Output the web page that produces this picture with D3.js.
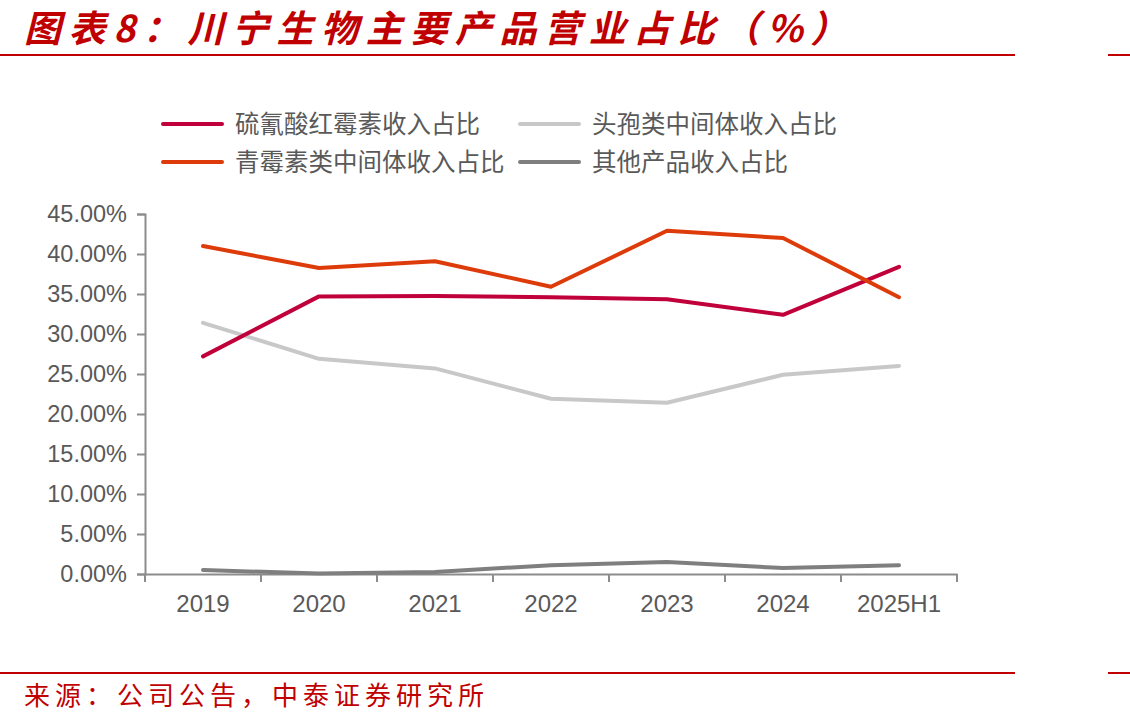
<!DOCTYPE html>
<html>
<head>
<meta charset="utf-8">
<script src="https://cdn.jsdelivr.net/npm/d3@7"></script>
<style>
  body { margin: 0; background: #fff; }
  svg { display: block; }
</style>
</head>
<body>
<svg id="chart" width="1130" height="726"></svg>
<script>
const categories = ['2019', '2020', '2021', '2022', '2023', '2024', '2025H1'];
const seriesNames = ['硫氰酸红霉素收入占比', '头孢类中间体收入占比', '青霉素类中间体收入占比', '其他产品收入占比'];
const erythromycin = [27.2, 34.7, 34.75, 34.6, 34.35, 32.4, 38.4];
const cephalosporin = [31.4, 26.9, 25.7, 21.9, 21.4, 24.9, 26.0];
const penicillin = [41.0, 38.25, 39.1, 35.9, 42.9, 42.0, 34.6];
const others = [0.5, 0.05, 0.25, 1.1, 1.5, 0.75, 1.1];
const yTicks = [0, 5, 10, 15, 20, 25, 30, 35, 40, 45];

const colors = ['#C0003A', '#C8C8C8', '#DD3C0A', '#7F7F7F'];
const values = [erythromycin, cephalosporin, penicillin, others];

const svg = d3.select('#chart');
const red = '#C00000';
const textColor = '#595959';

// title
svg.append('text')
  .attr('x', 24).attr('y', 42)
  .attr('font-family', '"Noto Sans CJK SC", sans-serif')
  .attr('font-size', 37).attr('font-weight', 'bold').attr('font-style', 'italic')
  .attr('letter-spacing', 7.6)
  .attr('fill', red)
  .text('图表8：川宁生物主要产品营业占比（%）');

// header / footer rules
[55, 673].forEach(y => {
  svg.append('line').attr('x1', 0).attr('x2', 1015).attr('y1', y).attr('y2', y)
    .attr('stroke', red).attr('stroke-width', 2);
  svg.append('line').attr('x1', 1108).attr('x2', 1130).attr('y1', y).attr('y2', y)
    .attr('stroke', red).attr('stroke-width', 2);
});

svg.append('text')
  .attr('x', 24).attr('y', 705)
  .attr('font-family', '"Noto Sans CJK SC", sans-serif')
  .attr('font-size', 26).attr('letter-spacing', 5)
  .attr('fill', red)
  .text('来源：公司公告，中泰证券研究所');

// scales
const x = d3.scaleBand().domain(categories).range([145, 957]);
const y = d3.scaleLinear().domain([0, 45]).range([574, 214]);

// y axis
const yAxis = svg.append('g')
  .attr('transform', 'translate(145,0)')
  .call(d3.axisLeft(y).tickValues(yTicks).tickSize(8).tickPadding(10)
    .tickFormat(d => d.toFixed(2) + '%'));
yAxis.select('.domain').attr('stroke', '#8c8c8c').attr('stroke-width', 2);
yAxis.selectAll('.tick line').attr('stroke', '#8c8c8c').attr('stroke-width', 2);
yAxis.selectAll('.tick text')
  .attr('font-family', 'Arial, "Liberation Sans", sans-serif')
  .attr('font-size', 23.5).attr('fill', textColor);

// x axis
const xAxis = svg.append('g')
  .attr('transform', 'translate(0,574)')
  .call(d3.axisBottom(x).tickSize(0).tickPadding(21));
xAxis.select('.domain').attr('stroke', '#8c8c8c').attr('stroke-width', 2);
xAxis.selectAll('.tick text')
  .attr('font-family', 'Arial, "Liberation Sans", sans-serif')
  .attr('font-size', 24).attr('fill', textColor);
const boundaries = categories.map(c => x(c)).concat([x.range()[1]]);
xAxis.selectAll('.bound').data(boundaries).enter().append('line')
  .attr('x1', d => d).attr('x2', d => d).attr('y1', 0).attr('y2', 8)
  .attr('stroke', '#8c8c8c').attr('stroke-width', 2);

// lines
const line = d3.line()
  .x((d, i) => x(categories[i]) + x.bandwidth() / 2)
  .y(d => y(d));

const drawOrder = [1, 3, 0, 2];
drawOrder.forEach(k => {
  svg.append('path')
    .datum(values[k])
    .attr('fill', 'none')
    .attr('stroke', colors[k])
    .attr('stroke-width', 4)
    .attr('stroke-linecap', 'round')
    .attr('stroke-linejoin', 'round')
    .attr('d', line);
});

// legend
const legendPos = [[163, 124], [520, 124], [163, 162], [520, 162]];
[0, 1, 2, 3].forEach(k => {
  const pos = legendPos[k];
  const g = svg.append('g').attr('transform', `translate(${pos[0]},${pos[1]})`);
  g.append('line').attr('x1', 0).attr('x2', 59).attr('y1', 0).attr('y2', 0)
    .attr('stroke', colors[k]).attr('stroke-width', 4).attr('stroke-linecap', 'round');
  g.append('text').attr('x', 72).attr('y', 8.5)
    .attr('font-family', '"Noto Sans CJK SC", sans-serif')
    .attr('font-size', 24.5).attr('fill', textColor)
    .text(seriesNames[k]);
});
</script>
</body>
</html>
